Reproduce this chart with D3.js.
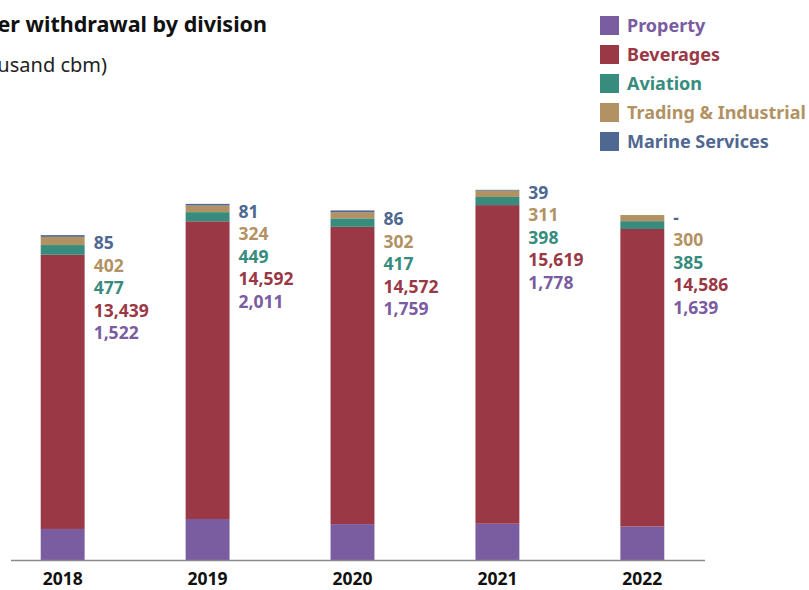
<!DOCTYPE html>
<html>
<head>
<meta charset="utf-8">
<script src="https://cdn.jsdelivr.net/npm/d3@7"></script>
<style>
  body { margin: 0; background: #fff; }
  svg { display: block; font-family: "Noto Sans", "Open Sans", sans-serif; }
</style>
</head>
<body>
<div id="chart"></div>
<script>
// data
const years = ["2018", "2019", "2020", "2021", "2022"];
const divisions = ["Property", "Beverages", "Aviation", "Trading & Industrial", "Marine Services"];
const property = [1522, 2011, 1759, 1778, 1639];
const beverages = [13439, 14592, 14572, 15619, 14586];
const aviation = [477, 449, 417, 398, 385];
const trading = [402, 324, 302, 311, 300];
const marine = [85, 81, 86, 39, 0];
const colors = ["#7a5ca1", "#9a3845", "#378c7e", "#b29262", "#4e6892"];

// where the first value label sits below the top of each bar
const labelShift = [14, 14, 15, 9, 8.5];

const width = 809, height = 590;
const series = [property, beverages, aviation, trading, marine];

const rows = years.map((y, i) => {
  const r = { year: y };
  divisions.forEach((d, k) => { r[d] = series[k][i]; });
  return r;
});

const stacked = d3.stack().keys(divisions)(rows);

const svg = d3.select("#chart").append("svg")
  .attr("width", width)
  .attr("height", height);

const x = d3.scaleBand()
  .domain(years)
  .range([-10, 715])
  .paddingInner(0.697)
  .paddingOuter(0.35);

const y = d3.scaleLinear()
  .domain([0, 20000])
  .range([560, 152]);

// bars
svg.append("g")
  .selectAll("g")
  .data(stacked)
  .join("g")
  .attr("fill", (d, k) => colors[k])
  .selectAll("rect")
  .data(d => d)
  .join("rect")
  .attr("x", d => x(d.data.year))
  .attr("width", x.bandwidth())
  .attr("y", d => y(d[1]))
  .attr("height", d => y(d[0]) - y(d[1]));

// axis line
svg.append("line")
  .attr("x1", 11).attr("x2", 705)
  .attr("y1", y(0) + 0.5).attr("y2", y(0) + 0.5)
  .attr("stroke", "#8a8a8a")
  .attr("stroke-width", 1.5);

// year labels
svg.append("g")
  .selectAll("text")
  .data(years)
  .join("text")
  .attr("x", d => x(d) + x.bandwidth() / 2)
  .attr("y", 585)
  .attr("text-anchor", "middle")
  .attr("font-size", 17.5)
  .attr("font-weight", "bold")
  .attr("fill", "#111")
  .text(d => d);

// value labels, top segment first
const fmt = d3.format(",");
years.forEach((yr, i) => {
  const total = d3.sum(series, s => s[i]);
  const top = y(total);
  const g = svg.append("g");
  for (let k = divisions.length - 1, n = 0; k >= 0; k--, n++) {
    const v = series[k][i];
    g.append("text")
      .attr("x", x(yr) + x.bandwidth() + 9)
      .attr("y", top + labelShift[i] + n * 22.5)
      .attr("font-size", 17.5)
      .attr("font-weight", "bold")
      .attr("fill", colors[k])
      .text(v === 0 ? "-" : fmt(v));
  }
});

// title (cut off at left edge)
svg.append("text")
  .attr("x", 267)
  .attr("y", 32)
  .attr("text-anchor", "end")
  .attr("font-size", 21.5)
  .attr("font-weight", "bold")
  .attr("fill", "#111")
  .text("Water withdrawal by division");

svg.append("text")
  .attr("x", 107)
  .attr("y", 72)
  .attr("text-anchor", "end")
  .attr("font-size", 20)
  .attr("fill", "#222")
  .text("(thousand cbm)");

// legend
const legend = svg.append("g")
  .selectAll("g")
  .data(divisions)
  .join("g")
  .attr("transform", (d, k) => `translate(600, ${16 + k * 29})`);

legend.append("rect")
  .attr("width", 19)
  .attr("height", 19)
  .attr("fill", (d, k) => colors[k]);

legend.append("text")
  .attr("x", 27)
  .attr("y", 15.5)
  .attr("font-size", 18)
  .attr("font-weight", "bold")
  .attr("fill", (d, k) => colors[k])
  .text(d => d);
</script>
</body>
</html>
